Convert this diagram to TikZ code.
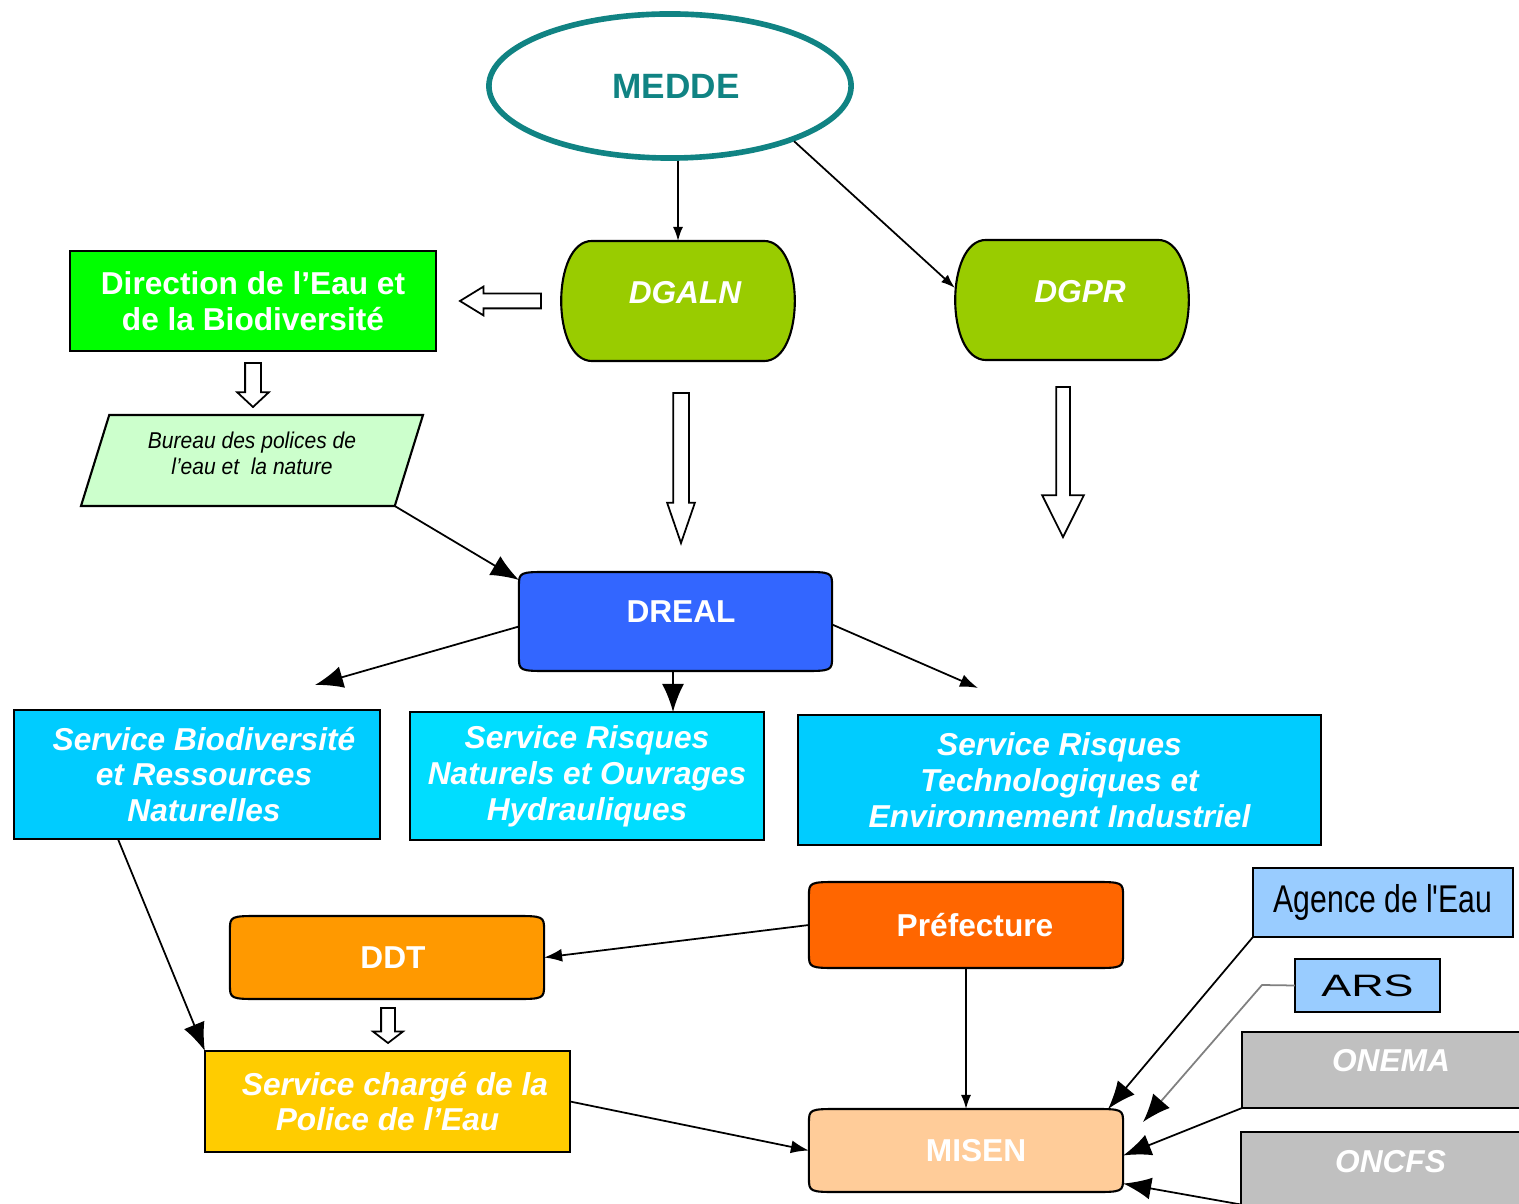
\documentclass[tikz,border=0pt]{standalone}
\usepackage{fontspec}
\setmainfont{Liberation Sans}
\newfontfamily\narrowfont[FakeStretch=0.78]{Liberation Sans}
\newfontfamily\slimfont[FakeStretch=0.92]{Liberation Sans}
\newfontfamily\widefont[FakeStretch=1.45]{Liberation Sans}
\usetikzlibrary{arrows.meta,shapes.geometric,shapes.arrows,backgrounds}

\definecolor{medteal}{HTML}{108383}
\definecolor{dggreen}{HTML}{99CC00}
\definecolor{eaugreen}{HTML}{00FF00}
\definecolor{bureaugreen}{HTML}{CCFFCC}
\definecolor{drealblue}{HTML}{3366FF}
\definecolor{svccyan}{HTML}{00CCFF}
\definecolor{svclight}{HTML}{00DDFF}
\definecolor{ddtorange}{HTML}{FF9900}
\definecolor{preforange}{HTML}{FF6600}
\definecolor{policeyellow}{HTML}{FFCC00}
\definecolor{misenpeach}{HTML}{FFCC99}
\definecolor{partblue}{HTML}{99CCFF}
\definecolor{partgrey}{HTML}{C0C0C0}

% box with soft corners, drawn behind the node text
\newcommand{\softshape}[2]{%
  \begin{pgfonlayer}{background}
  \draw[line width=0.6pt, fill=#2] ([xshift=0.32cm]#1.north west) -- ([xshift=-0.32cm]#1.north east)
    .. controls (#1.north east) .. ([yshift=-0.15cm]#1.north east)
    -- ([yshift=0.15cm]#1.south east)
    .. controls (#1.south east) .. ([xshift=-0.32cm]#1.south east)
    -- ([xshift=0.32cm]#1.south west)
    .. controls (#1.south west) .. ([yshift=0.15cm]#1.south west)
    -- ([yshift=-0.15cm]#1.north west)
    .. controls (#1.north west) .. ([xshift=0.32cm]#1.north west) -- cycle;
  \end{pgfonlayer}}

% box with bulging sides
\newcommand{\bulgeshape}[2]{%
  \begin{pgfonlayer}{background}
  \draw[line width=0.6pt, fill=#2] ([xshift=0.31cm]#1.north west) -- ([xshift=-0.31cm]#1.north east)
    .. controls ([xshift=0.1cm]#1.north east) and ([xshift=0.1cm]#1.south east) .. ([xshift=-0.31cm]#1.south east)
    -- ([xshift=0.31cm]#1.south west)
    .. controls ([xshift=-0.1cm]#1.south west) and ([xshift=-0.1cm]#1.north west) .. ([xshift=0.31cm]#1.north west) -- cycle;
  \end{pgfonlayer}}

\begin{document}
\begin{tikzpicture}[
  x=0.01cm, y=-0.01cm,
  wtext/.style={text=white, font=\fontsize{9}{10.2}\selectfont\bfseries, align=center},
  witext/.style={text=white, font=\fontsize{9}{10.2}\selectfont\bfseries\itshape, align=center},
  sbox/.style={draw, line width=0.6pt, rectangle, inner sep=0pt, outer sep=0pt},
  soft/.style={rectangle, inner sep=0pt, outer sep=0pt},
  hollow/.style={single arrow, draw, line width=0.5pt, fill=white, outer sep=0pt, anchor=tail},
  bigtip/.style={-{Latex[length=0.28cm,width=0.22cm]}, line width=0.5pt},
  midtip/.style={-{Latex[length=0.18cm,width=0.13cm]}, line width=0.5pt},
  smalltip/.style={-{Latex[length=0.14cm,width=0.1cm]}, line width=0.5pt}
]
  \useasboundingbox (0,0) rectangle (1519,1204);

  % ministry
  \node[ellipse, draw=medteal, line width=1.6pt, minimum width=3.62cm, minimum height=1.44cm,
        text=medteal, font=\fontsize{10}{12}\selectfont\bfseries] (medde) at (670,86) {\hspace{0.12cm}MEDDE};

  % general directions
  \node[soft, witext, minimum width=2.34cm, minimum height=1.2cm] (dgaln) at (678,301) {\hspace{0.14cm}\raisebox{0.18cm}{DGALN}};
  \node[soft, witext, minimum width=2.34cm, minimum height=1.2cm] (dgpr) at (1072,300) {\hspace{0.16cm}\raisebox{0.18cm}{DGPR}};
  \node[sbox, fill=eaugreen, wtext, minimum width=3.66cm, minimum height=1cm] (deb) at (253,301) {Direction de l’Eau et\\de la Biodiversité};
  \node[trapezium, trapezium left angle=70, trapezium right angle=110, trapezium stretches=true,
        draw, line width=0.6pt, fill=bureaugreen, minimum width=3.42cm, minimum height=0.91cm,
        inner sep=0pt, outer sep=0pt, align=center,
        font=\slimfont\fontsize{6.5}{7.4}\selectfont\itshape] (bpen) at (252,460.5) {Bureau des polices de\\l’eau et~ la nature\\[-0.12cm]};

  % regional level
  \node[soft, wtext, minimum width=3.13cm, minimum height=0.99cm] (dreal) at (675.5,621.5) {\hspace{0.11cm}\raisebox{0.19cm}{DREAL}};
  \node[sbox, fill=svccyan, witext, minimum width=3.66cm, minimum height=1.29cm] (sbrn) at (197,774.5) {\hspace{0.14cm}Service Biodiversité\\\hspace{0.14cm}et Ressources\\\hspace{0.14cm}Naturelles};
  \node[sbox, fill=svclight, witext, minimum width=3.54cm, minimum height=1.28cm] (srnoh) at (587,776) {Service Risques\\Naturels et Ouvrages\\Hydrauliques};
  \node[sbox, fill=svccyan, witext, minimum width=5.23cm, minimum height=1.3cm] (srtei) at (1059.5,780) {Service Risques\\Technologiques et\\Environnement Industriel};

  % departmental level
  \node[soft, wtext, minimum width=3.14cm, minimum height=0.83cm] (ddt) at (387,957.5) {\hspace{0.12cm}DDT};
  \node[soft, wtext, minimum width=3.14cm, minimum height=0.86cm] (pref) at (966,925) {\hspace{0.18cm}Préfecture};
  \node[sbox, fill=policeyellow, witext, minimum width=3.65cm, minimum height=1.01cm] (spe) at (387.5,1101.5) {\hspace{0.15cm}Service chargé de la\\Police de l’Eau};
  \node[soft, wtext, minimum width=3.14cm, minimum height=0.83cm] (misen) at (966,1150.5) {\hspace{0.2cm}MISEN};

  % partners
  \node[sbox, fill=partblue, minimum width=2.6cm, minimum height=0.69cm,
        font=\narrowfont\fontsize{11}{13}\selectfont] (agence) at (1383,902.5) {Agence de l'Eau};
  \node[sbox, fill=partblue, minimum width=1.45cm, minimum height=0.53cm,
        font=\widefont\fontsize{8.8}{10}\selectfont] (ars) at (1367.5,985.5) {ARS\hspace{0.14cm}};
  \node[sbox, fill=partgrey, witext, minimum width=2.98cm, minimum height=0.76cm] (onema) at (1391,1070) {\raisebox{0.2cm}{ONEMA}};
  \node[sbox, fill=partgrey, witext, minimum width=2.99cm, minimum height=0.83cm] (oncfs) at (1390.5,1173.5) {\raisebox{0.25cm}{ONCFS}};

  % shapes behind the texts
  \bulgeshape{dgaln}{dggreen}
  \bulgeshape{dgpr}{dggreen}
  \softshape{dreal}{drealblue}
  \softshape{ddt}{ddtorange}
  \softshape{pref}{preforange}
  \softshape{misen}{misenpeach}

  % hollow arrows
  \node[hollow, shape border rotate=180, inner sep=0.065cm, minimum height=0.81cm, minimum width=0.27cm,
        single arrow head extend=0.07cm, single arrow tip angle=63] (h1) at (541,301) {};
  \node[hollow, shape border rotate=270, inner sep=0.07cm, minimum height=0.44cm, minimum width=0.3cm,
        single arrow head extend=0.08cm, single arrow tip angle=94] (h2) at (253,363) {};
  \node[hollow, shape border rotate=270, inner sep=0.07cm, minimum height=1.5cm, minimum width=0.26cm,
        single arrow head extend=0.06cm, single arrow tip angle=38] (h3) at (681,393) {};
  \node[hollow, shape border rotate=270, inner sep=0.06cm, minimum height=1.5cm, minimum width=0.4cm,
        single arrow head extend=0.14cm, single arrow tip angle=53] (h4) at (1063,387) {};
  \node[hollow, shape border rotate=270, inner sep=0.06cm, minimum height=0.35cm, minimum width=0.28cm,
        single arrow head extend=0.08cm, single arrow tip angle=105] (h5) at (388,1008) {};

  % free ends
  \coordinate (tosbrn) at (315,685);
  \coordinate (tosrtei) at (978,688);
  \coordinate (arsbend) at (1262,985);
  \coordinate (arstip) at (1143,1122);

  % top edges
  \draw[smalltip] (medde.south -| dgaln.north) -- (dgaln.north);
  \draw[smalltip] (medde.-24) -- ([yshift=0.12cm]dgpr.west);
  \draw[bigtip] (bpen.bottom right corner) -- ([yshift=-0.08cm]dreal.north west);

  % regional edges
  \draw[bigtip] ([yshift=-0.05cm]dreal.west) -- (tosbrn);
  \draw[bigtip] ([xshift=-0.025cm]dreal.south) -- ([xshift=-0.025cm]dreal.south |- srnoh.north);
  \draw[midtip] ([yshift=-0.03cm]dreal.east) -- (tosrtei);
  \draw[bigtip] ([xshift=-0.79cm]sbrn.south) -- (spe.north west);

  % departmental edges
  \draw[midtip] (pref.west) -- (ddt.east);
  \draw[smalltip] (pref.south) -- (misen.north);
  \draw[midtip] (spe.east) -- (misen.west);

  % partner edges
  \draw[bigtip] (agence.south west) -- ([xshift=-0.15cm]misen.north east);
  \draw[-{Latex[length=0.28cm,width=0.22cm,color=black]}, line width=0.5pt, draw=gray] (ars.west) -- (arsbend) -- (arstip);
  \draw[bigtip] (onema.south west) -- ([yshift=-0.05cm]misen.east);
  \draw[bigtip] ([yshift=-0.31cm]oncfs.west) -- ([yshift=-0.33cm]misen.east);

\end{tikzpicture}
\end{document}
